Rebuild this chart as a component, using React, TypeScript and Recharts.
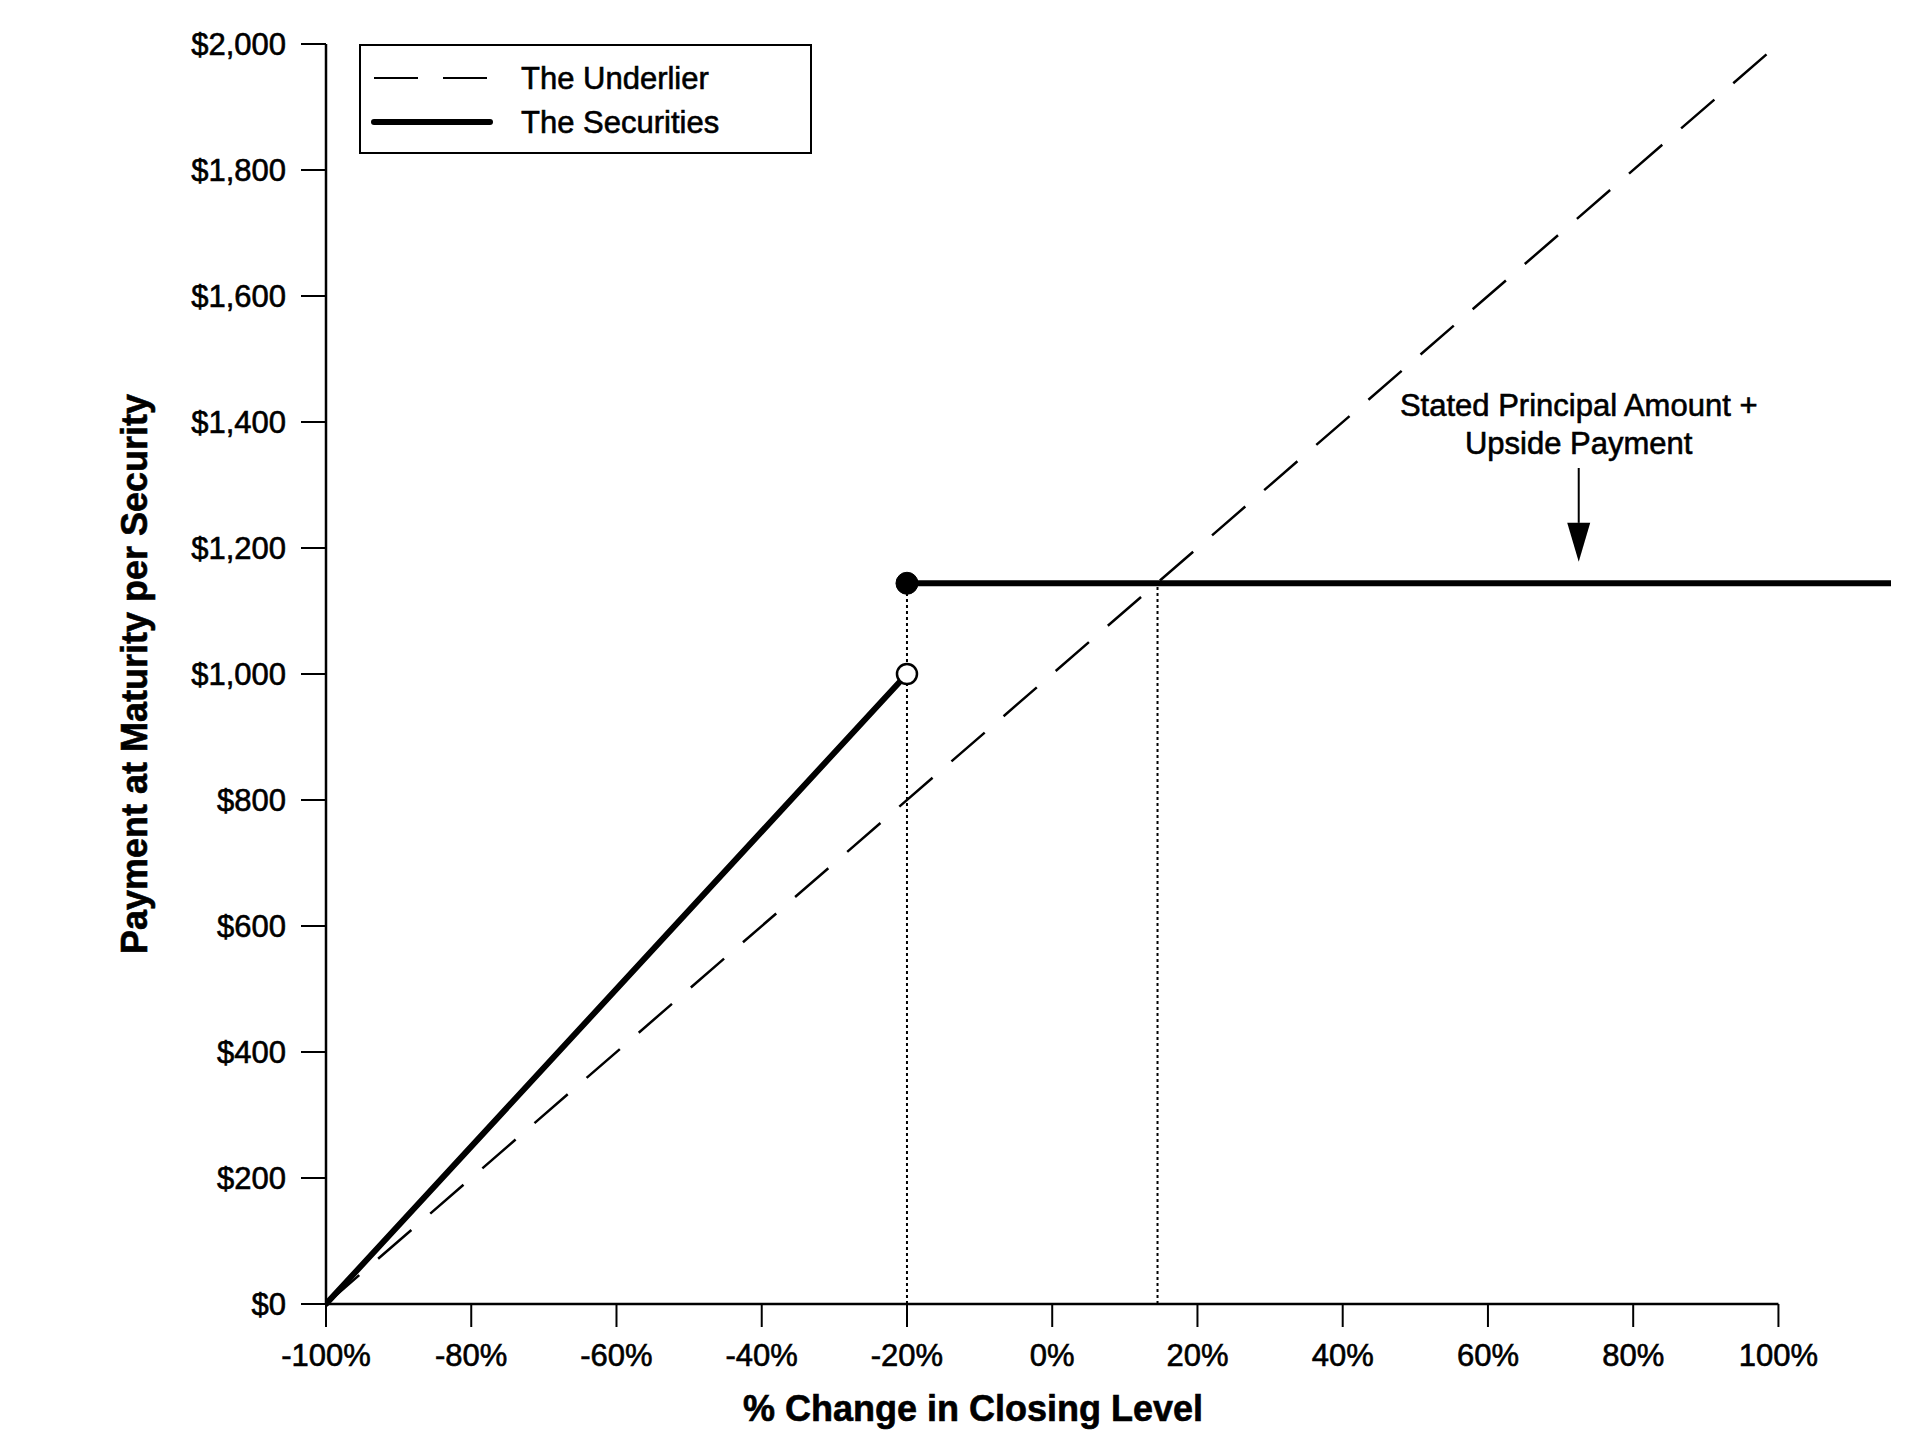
import { Line, LineChart, ReferenceDot, ReferenceLine, XAxis, YAxis } from 'recharts'

const FONT = "'Liberation Sans', Arial, Helvetica, sans-serif"

// axis ticks
const xTicks = [-100, -80, -60, -40, -20, 0, 20, 40, 60, 80, 100]
const yTicks = [0, 200, 400, 600, 800, 1000, 1200, 1400, 1600, 1800, 2000]

// the underlier (dashed)
const underlierChange = [-100, 100]
const underlierPayment = [0, 2000]

// the securities (solid), two pieces
const securitiesLowChange = [-100, -20]
const securitiesLowPayment = [0, 1000]
const securitiesHighChange = [-20, 115.5]
const securitiesHighPayment = [1144, 1144]

// threshold / cap markers
const thresholdChange = -20
const thresholdPayment = 1000
const capCrossChange = 14.5
const capPayment = 1144

// annotation
const noteLines = ['Stated Principal Amount +', 'Upside Payment']
const noteChange = 72.5
const noteTextPayment = 1427
const arrowTopPayment = 1327
const arrowTipPayment = 1178

const toPoints = (xs: number[], ys: number[]) => xs.map((x, i) => ({ x, y: ys[i] }))

const underlierData = toPoints(underlierChange, underlierPayment)
const securitiesLowData = toPoints(securitiesLowChange, securitiesLowPayment)
const securitiesHighData = toPoints(securitiesHighChange, securitiesHighPayment)

// thin outline makes the glyphs a little heavier, like the scanned original
const ink = { fill: '#000', stroke: '#000', strokeWidth: 0.6 }

const Arrow = (p: any) => {
  const top = Math.min(p.y1, p.y2)
  const tip = Math.max(p.y1, p.y2)
  const x = p.x1
  const head = 39
  return (
    <g>
      <line x1={x} y1={top} x2={x} y2={tip - head} stroke="#000" strokeWidth={2} />
      <polygon points={`${x - 11.5},${tip - head} ${x + 11.5},${tip - head} ${x},${tip}`} fill="#000" />
    </g>
  )
}

const Note = (p: any) => (
  <text x={p.cx} y={p.cy} textAnchor="middle" fontSize={31} fontFamily={FONT} {...ink}>
    {noteLines.map((t, i) => (
      <tspan key={t} x={p.cx} dy={i === 0 ? '0.35em' : 38}>
        {t}
      </tspan>
    ))}
  </text>
)

function Legend() {
  return (
    <div
      style={{
        position: 'absolute',
        left: 351,
        top: 36,
        width: 449,
        height: 106,
        border: '2px solid #000',
        background: '#fff',
      }}
    >
      <svg width={449} height={106}>
        <line x1={13} y1={32} x2={129} y2={32} stroke="#000" strokeWidth={2} strokeDasharray="44 25" />
        <line x1={13} y1={76} x2={129} y2={76} stroke="#000" strokeWidth={6} strokeLinecap="round" />
        <text x={160} y={32} dominantBaseline="central" fontSize={31} fontFamily={FONT} {...ink}>
          The Underlier
        </text>
        <text x={160} y={76} dominantBaseline="central" fontSize={31} fontFamily={FONT} {...ink}>
          The Securities
        </text>
      </svg>
    </div>
  )
}

export default function App() {
  const tickStyle = { fontSize: 31, fontFamily: FONT, ...ink }
  return (
    <div style={{ position: 'relative', width: 1900, height: 1440, fontFamily: FONT, background: '#fff' }}>
      <LineChart width={1900} height={1440} margin={{ top: 36, right: 17, bottom: 0, left: 0 }}>
        <XAxis
          type="number"
          dataKey="x"
          domain={[-100, 115.5]}
          ticks={xTicks}
          interval={0}
          allowDataOverflow
          height={144}
          axisLine={false}
          tickLine={{ stroke: '#000', strokeWidth: 2 }}
          tickSize={23}
          tickMargin={17}
          tick={tickStyle}
          tickFormatter={(v) => `${v}%`}
          label={(props: any) => {
            const vb = props.viewBox
            return (
              <text
                x={vb.x + 647}
                y={vb.y + 104}
                textAnchor="middle"
                dominantBaseline="central"
                fontSize={36}
                fontWeight="bold"
                fontFamily={FONT}
                {...ink}
              >
                % Change in Closing Level
              </text>
            )
          }}
        />
        <YAxis
          type="number"
          dataKey="y"
          domain={[0, 2000]}
          ticks={yTicks}
          interval={0}
          width={318}
          axisLine={{ stroke: '#000', strokeWidth: 2.5 }}
          tickLine={{ stroke: '#000', strokeWidth: 2 }}
          tickSize={25}
          tickMargin={15}
          tick={tickStyle}
          tickFormatter={(v) => `$${Number(v).toLocaleString('en-US')}`}
          label={(props: any) => {
            const vb = props.viewBox
            const x = vb.x + 126
            const y = vb.y + vb.height / 2
            return (
              <text
                x={x}
                y={y}
                transform={`rotate(-90, ${x}, ${y})`}
                textAnchor="middle"
                dominantBaseline="central"
                fontSize={36}
                fontWeight="bold"
                fontFamily={FONT}
                {...ink}
              >
                Payment at Maturity per Security
              </text>
            )
          }}
        />
        <ReferenceLine
          segment={[
            { x: xTicks[0], y: 0 },
            { x: xTicks[xTicks.length - 1], y: 0 },
          ]}
          stroke="#000"
          strokeWidth={2.5}
        />
        <ReferenceLine
          segment={[
            { x: thresholdChange, y: 0 },
            { x: thresholdChange, y: capPayment },
          ]}
          stroke="#000"
          strokeWidth={2}
          strokeDasharray="3 3"
        />
        <ReferenceLine
          segment={[
            { x: capCrossChange, y: 0 },
            { x: capCrossChange, y: capPayment },
          ]}
          stroke="#000"
          strokeWidth={2}
          strokeDasharray="3 3"
        />
        <Line
          data={underlierData}
          dataKey="y"
          type="linear"
          stroke="#000"
          strokeWidth={2.5}
          strokeDasharray="44 25"
          dot={false}
          activeDot={false}
          isAnimationActive={false}
        />
        <Line
          data={securitiesLowData}
          dataKey="y"
          type="linear"
          stroke="#000"
          strokeWidth={6}
          strokeLinecap="round"
          dot={false}
          activeDot={false}
          isAnimationActive={false}
        />
        <Line
          data={securitiesHighData}
          dataKey="y"
          type="linear"
          stroke="#000"
          strokeWidth={6}
          strokeLinecap="round"
          dot={false}
          activeDot={false}
          isAnimationActive={false}
        />
        <ReferenceDot x={thresholdChange} y={thresholdPayment} r={10} fill="#fff" stroke="#000" strokeWidth={2.5} />
        <ReferenceDot x={thresholdChange} y={capPayment} r={11} fill="#000" stroke="#000" strokeWidth={1} />
        <ReferenceLine
          segment={[
            { x: noteChange, y: arrowTopPayment },
            { x: noteChange, y: arrowTipPayment },
          ]}
          shape={Arrow}
        />
        <ReferenceDot x={noteChange} y={noteTextPayment} r={0} shape={Note} />
      </LineChart>
      <Legend />
    </div>
  )
}
